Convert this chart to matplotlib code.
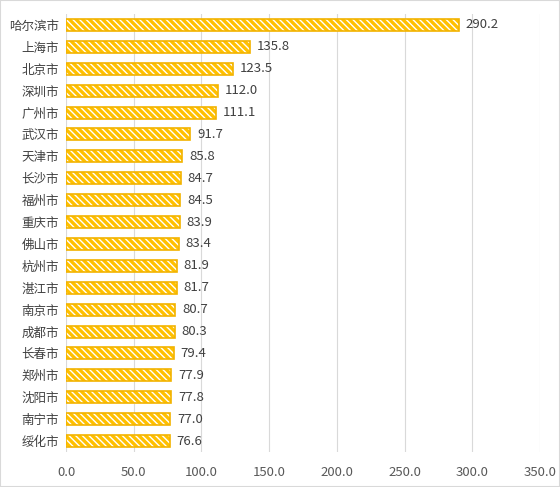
import matplotlib
matplotlib.use("Agg")
import matplotlib.pyplot as plt
from matplotlib.patches import Rectangle

plt.rcParams['font.family'] = ['Noto Sans CJK SC', 'DejaVu Sans']
plt.rcParams['hatch.linewidth'] = 1.0

cities = ["哈尔滨市", "上海市", "北京市", "深圳市", "广州市", "武汉市", "天津市", "长沙市",
          "福州市", "重庆市", "佛山市", "杭州市", "湛江市", "南京市", "成都市", "长春市",
          "郑州市", "沈阳市", "南宁市", "绥化市"]
values = [290.2, 135.8, 123.5, 112.0, 111.1, 91.7, 85.8, 84.7, 84.5, 83.9,
          83.4, 81.9, 81.7, 80.7, 80.3, 79.4, 77.9, 77.8, 77.0, 76.6]
xticks = [0, 50, 100, 150, 200, 250, 300, 350]

gold = '#FFC000'
edge = '#F2B300'

fig = plt.figure(figsize=(5.6, 4.87), dpi=100)
fig.patches.append(Rectangle((0, 0), 1, 1, transform=fig.transFigure, fill=False,
                             edgecolor='#D9D9D9', linewidth=1.5))
ax = fig.add_axes([66/560, 1-452/487, 474/560, 438/487])

y = list(range(len(cities)))
ax.barh(y, values, height=0.55, color=gold, edgecolor='white', hatch='\\\\\\\\\\',
        linewidth=0, zorder=2)
ax.barh(y, values, height=0.55, fill=False, edgecolor=edge, linewidth=1.2, zorder=3)

for yi, v in zip(y, values):
    ax.text(v + 5, yi, f"{v:.1f}", va='center', ha='left', fontsize=9.5, color='#404040')

ax.set_ylim(len(cities) - 0.5, -0.5)
ax.set_xlim(0, 350)
ax.set_yticks(y)
ax.set_yticklabels(cities, fontsize=9, color='#404040')
ax.set_xticks(xticks)
ax.set_xticklabels([f"{t:.1f}" for t in xticks], fontsize=9.5, color='#595959')
ax.tick_params(length=0, axis='both')
ax.tick_params(axis='x', pad=10)
ax.tick_params(axis='y', pad=5)
ax.grid(axis='x', color='#D9D9D9', linewidth=0.8, zorder=0)
ax.set_axisbelow(True)
for s in ax.spines.values():
    s.set_visible(False)

fig.savefig("out.png", dpi=100)
